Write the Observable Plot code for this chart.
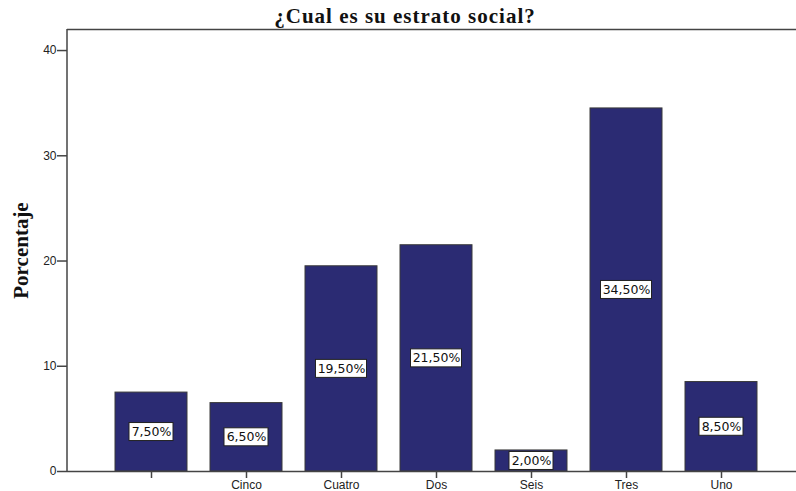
<!DOCTYPE html>
<html>
<head>
<meta charset="utf-8">
<script src="https://cdn.jsdelivr.net/npm/d3@7"></script>
<script src="https://cdn.jsdelivr.net/npm/@observablehq/plot@0.6"></script>
<style>
  html, body { margin: 0; padding: 0; background: #fff; }
  #title { height: 26px; width: 796px; box-sizing: border-box; padding-left: 14px; text-align: center; white-space: nowrap;
    font-family: "Liberation Serif", "Times New Roman", serif; font-weight: bold; font-size: 21px; letter-spacing: 1px; line-height: 32px; color: #111; }
</style>
</head>
<body>
<div id="title">¿Cual es su estrato social?</div>
<div id="chart"></div>
<script>
const categories = [" ", "Cinco", "Cuatro", "Dos", "Seis", "Tres", "Uno"];
const values = [7.5, 6.5, 19.5, 21.5, 2.0, 34.5, 8.5];
const yTicks = [0, 10, 20, 30, 40];

const data = categories.map((c, i) => ({cat: c, v: values[i], label: values[i].toFixed(2).replace(".", ",") + "%"}));
const lineColor = "#444";

function leftLine(...args) {
  const dims = args.find(a => a && typeof a === "object" && "marginLeft" in a && "height" in a);
  const line = document.createElementNS("http://www.w3.org/2000/svg", "line");
  line.setAttribute("x1", dims.marginLeft);
  line.setAttribute("x2", dims.marginLeft);
  line.setAttribute("y1", dims.marginTop);
  line.setAttribute("y2", dims.height - dims.marginBottom);
  line.setAttribute("stroke", lineColor);
  line.setAttribute("stroke-width", 1.5);
  return line;
}

const plot = Plot.plot({
  width: 796,
  height: 465,
  marginTop: 3,
  marginBottom: 20,
  marginLeft: 67,
  marginRight: 0,
  style: {fontFamily: "'Liberation Sans', Arial, sans-serif", fontSize: "12px", color: "#222", background: "#fff"},
  x: {domain: categories, paddingInner: 0.24, paddingOuter: 0, insetLeft: 48, insetRight: 38, label: null},
  y: {domain: [0, 42], label: null},
  marks: [
    Plot.barY(data, {x: "cat", y: "v", fill: "#2b2b73", stroke: "#3a3a3a", strokeWidth: 1}),
    Plot.barY(data.filter(d => d.label.length <= 5), {x: "cat", y1: d => d.v / 2, y2: d => d.v / 2,
      insetLeft: 14, insetRight: 14, insetTop: -9, insetBottom: -9, fill: "white", stroke: "#222", strokeWidth: 1}),
    Plot.barY(data.filter(d => d.label.length > 5), {x: "cat", y1: d => d.v / 2, y2: d => d.v / 2,
      insetLeft: 10.5, insetRight: 10.5, insetTop: -9, insetBottom: -9, fill: "white", stroke: "#222", strokeWidth: 1}),
    Plot.text(data, {x: "cat", y: d => d.v / 2, text: "label", fontSize: 12.5,
      fontFamily: "'DejaVu Sans', Verdana, sans-serif", fill: "#111"}),
    Plot.ruleY([42], {stroke: lineColor, strokeWidth: 1.5}),
    Plot.ruleY([0], {stroke: lineColor, strokeWidth: 1.5}),
    leftLine,
    Plot.axisY({ticks: yTicks, tickSize: 10, tickPadding: 1, stroke: lineColor, strokeWidth: 1.5, label: null}),
    Plot.axisX({tickSize: 7, tickPadding: 2, stroke: lineColor, strokeWidth: 1.5, label: null}),
    Plot.text(["Porcentaje"], {frameAnchor: "left", textAnchor: "middle", dx: -46, rotate: -90, fontSize: 21, fontWeight: "bold",
      fontFamily: "'Liberation Serif', 'Times New Roman', serif", fill: "#111"})
  ]
});
document.getElementById("chart").appendChild(plot);
</script>
</body>
</html>
